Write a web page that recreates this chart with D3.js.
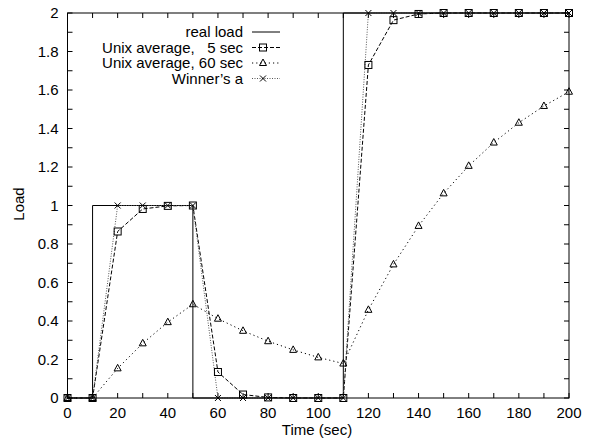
<!DOCTYPE html>
<html>
<head>
<meta charset="utf-8">
<script src="https://cdn.jsdelivr.net/npm/d3@7"></script>
<style>
body { margin: 0; background: #fff; }
text { font-family: "Liberation Sans", Arial, sans-serif; fill: #000; }
</style>
</head>
<body>
<div id="chart-area"></div>
<script>
// sample times (sec)
var times = [0, 10, 20, 30, 40, 50, 60, 70, 80, 90, 100, 110, 120, 130, 140, 150, 160, 170, 180, 190, 200];

// real load as a step curve
var realT = [0, 10, 10, 50, 50, 110, 110, 200];
var realV = [0, 0, 1, 1, 0, 0, 2, 2];

var unix5 = [0, 0, 0.865, 0.982, 0.998, 1.0, 0.135, 0.018, 0.003, 0, 0, 0, 1.73, 1.963, 1.995, 2, 2, 2, 2, 2, 2];
var unix60 = [0, 0, 0.154, 0.284, 0.394, 0.487, 0.412, 0.349, 0.295, 0.25, 0.211, 0.179, 0.458, 0.694, 0.894, 1.063, 1.206, 1.327, 1.43, 1.517, 1.591];
var winner = [0, 0, 1, 1, 1, 1, 0, 0, 0, 0, 0, 0, 2, 2, 2, 2, 2, 2, 2, 2, 2];

var xTicks = d3.range(0, 201, 10);
var xLabels = d3.range(0, 201, 20);
var yTicks = d3.range(0, 21).map(function(d) { return d / 10; });
var yLabels = [0, 0.2, 0.4, 0.6, 0.8, 1, 1.2, 1.4, 1.6, 1.8, 2];

var W = 592, H = 439;
var pLeft = 67.5, pRight = 569, pTop = 13, pBottom = 398;
var fs = 15;

var svg = d3.select("#chart-area").append("svg")
    .attr("width", W)
    .attr("height", H);

var x = d3.scaleLinear().domain([0, 200]).range([pLeft, pRight]);
var y = d3.scaleLinear().domain([0, 2]).range([pBottom, pTop]);

// ticks (inward, mirrored)
var tl = 5;
var g = svg.append("g").attr("stroke", "#000").attr("stroke-width", 1);
xTicks.forEach(function(t) {
    g.append("line").attr("x1", x(t)).attr("x2", x(t)).attr("y1", pBottom).attr("y2", pBottom - tl);
    g.append("line").attr("x1", x(t)).attr("x2", x(t)).attr("y1", pTop).attr("y2", pTop + tl);
});
yTicks.forEach(function(t) {
    g.append("line").attr("x1", pLeft).attr("x2", pLeft + tl).attr("y1", y(t)).attr("y2", y(t));
    g.append("line").attr("x1", pRight).attr("x2", pRight - tl).attr("y1", y(t)).attr("y2", y(t));
});

// tick labels
xLabels.forEach(function(t) {
    svg.append("text")
        .attr("x", x(t))
        .attr("y", pBottom + 20)
        .attr("text-anchor", "middle")
        .attr("font-size", fs)
        .text(t);
});
yLabels.forEach(function(t) {
    svg.append("text")
        .attr("x", pLeft - 9)
        .attr("y", y(t) + 5)
        .attr("text-anchor", "end")
        .attr("font-size", fs)
        .text(t);
});

svg.append("text")
    .attr("x", 317)
    .attr("y", 435)
    .attr("text-anchor", "middle")
    .attr("font-size", fs)
    .text("Time (sec)");

svg.append("text")
    .attr("transform", "translate(24,204) rotate(-90)")
    .attr("text-anchor", "middle")
    .attr("font-size", fs)
    .text("Load");

// curves
var line = d3.line()
    .x(function(d) { return x(d[0]); })
    .y(function(d) { return y(d[1]); });

svg.append("path")
    .attr("d", line(d3.zip(realT, realV)))
    .attr("fill", "none")
    .attr("stroke", "#000")
    .attr("stroke-width", 1);

svg.append("path")
    .attr("d", line(d3.zip(times, unix5)))
    .attr("fill", "none")
    .attr("stroke", "#000")
    .attr("stroke-width", 1)
    .attr("stroke-dasharray", "4,2");

svg.append("path")
    .attr("d", line(d3.zip(times, unix60)))
    .attr("fill", "none")
    .attr("stroke", "#000")
    .attr("stroke-width", 1)
    .attr("stroke-dasharray", "1.2,3");

svg.append("path")
    .attr("d", line(d3.zip(times, winner)))
    .attr("fill", "none")
    .attr("stroke", "#555")
    .attr("stroke-width", 1)
    .attr("stroke-dasharray", "1,1.5");

// markers
function square(gg, cx, cy) {
    gg.append("rect")
        .attr("x", cx - 3.5).attr("y", cy - 3.5)
        .attr("width", 7).attr("height", 7)
        .attr("fill", "none").attr("stroke", "#000");
}
function tri(gg, cx, cy) {
    gg.append("path")
        .attr("d", "M" + cx + "," + (cy - 4) + "L" + (cx + 3.5) + "," + (cy + 2.5) + "L" + (cx - 3.5) + "," + (cy + 2.5) + "Z")
        .attr("fill", "none").attr("stroke", "#000");
}
function cross(gg, cx, cy) {
    gg.append("path")
        .attr("d", "M" + (cx - 3) + "," + (cy - 3) + "L" + (cx + 3) + "," + (cy + 3) + "M" + (cx - 3) + "," + (cy + 3) + "L" + (cx + 3) + "," + (cy - 3))
        .attr("fill", "none").attr("stroke", "#000");
}

var mk = svg.append("g");
times.forEach(function(t, i) {
    square(mk, x(t), y(unix5[i]));
    tri(mk, x(t), y(unix60[i]));
    cross(mk, x(t), y(winner[i]));
});

// frame
svg.append("rect")
    .attr("x", pLeft).attr("y", pTop)
    .attr("width", pRight - pLeft).attr("height", pBottom - pTop)
    .attr("fill", "none").attr("stroke", "#000").attr("stroke-width", 1);

// legend
var names = ["real load", "Unix average,   5 sec", "Unix average, 60 sec", "Winner\u2019s a"];
var dashes = [null, "4,2", "1.2,3", "1,1.5"];
var colors = ["#000", "#000", "#000", "#555"];
var markers = [null, square, tri, cross];
var lx1 = 252, lx2 = 280, ly0 = 32, ldy = 15.5;
names.forEach(function(n, i) {
    var ly = ly0 + i * ldy;
    svg.append("text")
        .attr("x", 243)
        .attr("y", ly + 5)
        .attr("text-anchor", "end")
        .attr("font-size", fs)
        .style("white-space", "pre")
        .text(n);
    svg.append("line")
        .attr("x1", lx1).attr("x2", lx2)
        .attr("y1", ly).attr("y2", ly)
        .attr("stroke", colors[i])
        .attr("stroke-dasharray", dashes[i]);
    if (markers[i]) markers[i](svg, (lx1 + lx2) / 2 - 3, ly);
});
</script>
</body>
</html>
